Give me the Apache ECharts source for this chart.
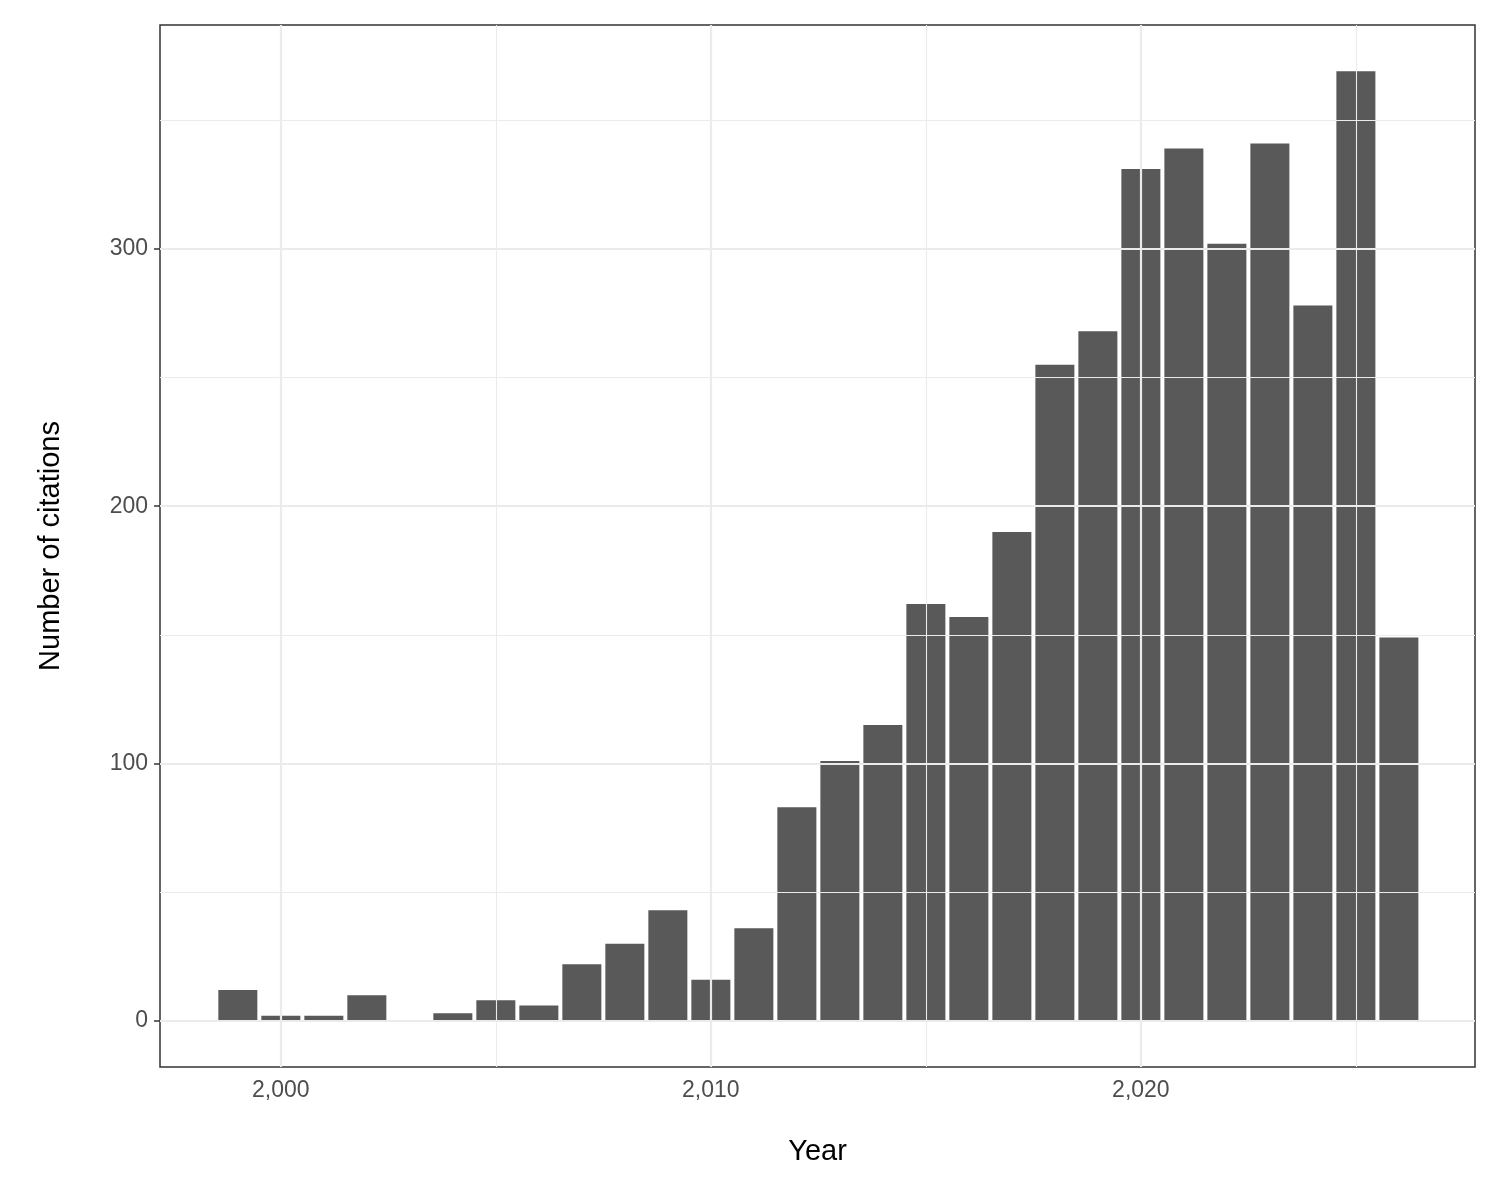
<!DOCTYPE html>
<html><head><meta charset="utf-8">
<script src="https://cdn.jsdelivr.net/npm/echarts@6/dist/echarts.min.js"></script>
<style>html,body{margin:0;background:#fff}#c{width:1500px;height:1200px}</style>
</head><body><div id="c"></div>
<script>
const years = [1999,2000,2001,2002,2004,2005,2006,2007,2008,2009,2010,2011,2012,2013,2014,2015,2016,2017,2018,2019,2020,2021,2022,2023,2024,2025,2026];
const citations = [12,2,2,10,3,8,6,22,30,43,16,36,83,101,115,162,157,190,255,268,331,339,302,341,278,369,149];
const xTicks = [2000,2010,2020];
const xMinor = [2005,2015,2025];
const yTicks = [0,100,200,300];
const yMinor = [50,150,250,350];
const font = 'Liberation Sans, Arial, sans-serif';
const gridLines = [];
xTicks.forEach(v=>gridLines.push({xAxis:v,lineStyle:{width:2.2}}));
xMinor.forEach(v=>gridLines.push({xAxis:v,lineStyle:{width:1.1}}));
yTicks.forEach(v=>gridLines.push({yAxis:v,lineStyle:{width:2.2}}));
yMinor.forEach(v=>gridLines.push({yAxis:v,lineStyle:{width:1.1}}));
const chart = echarts.init(document.getElementById('c'));
chart.setOption({
  animation:false,
  grid:{left:160,top:25,right:25,bottom:133,show:true,borderColor:'#333',borderWidth:1.5,backgroundColor:'#fff'},
  xAxis:{type:'value',min:1997.19,max:2027.77,name:'Year',nameLocation:'middle',nameGap:70,
    nameTextStyle:{fontFamily:font,fontSize:29,color:'#000'},
    axisLine:{show:false},splitLine:{show:false},
    axisTick:{show:true,customValues:xTicks,length:6,lineStyle:{color:'#333',width:1.5}},
    axisLabel:{customValues:xTicks,fontFamily:font,fontSize:23,color:'#4d4d4d',margin:12}},
  yAxis:{type:'value',min:-17.9,max:387,name:'Number of citations',nameLocation:'middle',nameGap:95,
    nameTextStyle:{fontFamily:font,fontSize:29,color:'#000'},
    axisLine:{show:false},splitLine:{show:false},
    axisTick:{show:true,customValues:yTicks,length:6,lineStyle:{color:'#333',width:1.5}},
    axisLabel:{customValues:yTicks,fontFamily:font,fontSize:23,color:'#4d4d4d',margin:12}},
  series:[
    {type:'line',data:[],z:1,silent:true,markLine:{silent:true,symbol:'none',label:{show:false},
      lineStyle:{color:'#ebebeb',type:'solid'},data:gridLines}},
    {type:'bar',z:2,barWidth:39,itemStyle:{color:'#595959'},
     data:years.map((y,i)=>[y,citations[i]])}
  ]
});
</script></body></html>
